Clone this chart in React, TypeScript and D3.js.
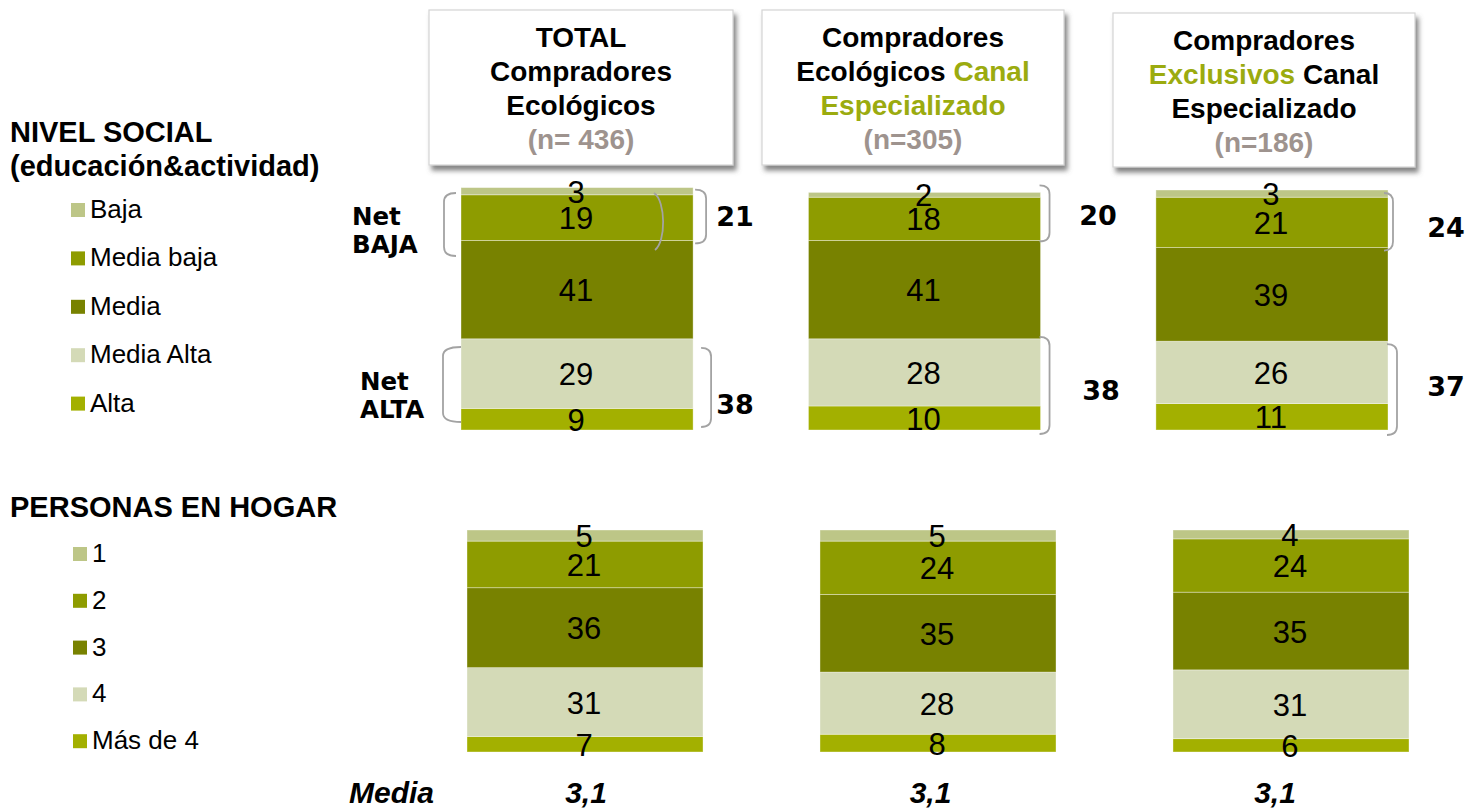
import React from "react";
import * as d3 from "d3";

// ---------- DATA ----------
const groups = ["total", "canal", "exclusivos"];

const nivelCategories = ["Baja", "Media baja", "Media", "Media Alta", "Alta"];
const nivelBaja = [3, 2, 3];
const nivelMediaBaja = [19, 18, 21];
const nivelMedia = [41, 41, 39];
const nivelMediaAlta = [29, 28, 26];
const nivelAlta = [9, 10, 11];
const netBaja = [21, 20, 24];
const netAlta = [38, 38, 37];

const personasCategories = ["1", "2", "3", "4", "Más de 4"];
const personas1 = [5, 5, 4];
const personas2 = [21, 24, 24];
const personas3 = [36, 35, 35];
const personas4 = [31, 28, 31];
const personas5 = [7, 8, 6];
const mediaValues = ["3,1", "3,1", "3,1"];

const headerLines = [
  [[["TOTAL", "k"]], [["Compradores", "k"]], [["Ecológicos", "k"]], [["(n= 436)", "g"]]],
  [[["Compradores", "k"]], [["Ecológicos ", "k"], ["Canal", "v"]], [["Especializado", "v"]], [["(n=305)", "g"]]],
  [[["Compradores", "k"]], [["Exclusivos", "v"], [" Canal", "k"]], [["Especializado", "k"]], [["(n=186)", "g"]]],
];

// ---------- STYLE / LAYOUT ----------
const W = 1467;
const H = 808;
const colors = ["#bdc687", "#8e9c00", "#788200", "#d4dab7", "#a3b000"];
const textColors: Record<string, string> = { k: "#000000", v: "#9bab0f", g: "#9e938e" };
const SANS = "'Liberation Sans', Arial, sans-serif";
const VERD = "'DejaVu Sans', Verdana, sans-serif";
const bracketColor = "#a3a3a3";

const headerBoxes = [
  { x: 429, y: 10, w: 304, h: 155 },
  { x: 762, y: 10, w: 302, h: 155 },
  { x: 1113, y: 13, w: 302, h: 154 },
];

// bracket annotations: offsets relative to bar right edge & segment extents
const bajaAnn = [
  { bx: 2, bw: 11, dy0: 2, dy1: 3, tx: 735, ty: 226 },
  { bx: -1, bw: 10, dy0: -7, dy1: 1, tx: 1098, ty: 225 },
  { bx: -4, bw: 9, dy0: 3, dy1: 3, tx: 1446, ty: 237 },
];
const altaAnn = [
  { bx: 8, bw: 10, dy0: 9, dy1: -3, tx: 735, ty: 414 },
  { bx: -1, bw: 10, dy0: -2, dy1: 4, tx: 1101, ty: 400 },
  { bx: -1, bw: 10, dy0: 3, dy1: 5, tx: 1446, ty: 396 },
];

function rightBracket(x0: number, x1: number, y0: number, y1: number, r = 9) {
  return `M${x0},${y0} Q${x1},${y0} ${x1},${y0 + r} L${x1},${y1 - r} Q${x1},${y1} ${x0},${y1}`;
}
function leftBracket(x0: number, x1: number, y0: number, y1: number, r = 9) {
  return `M${x1},${y0} Q${x0},${y0} ${x0},${y0 + r} L${x0},${y1 - r} Q${x0},${y1} ${x1},${y1}`;
}

type Row = Record<string, number | string>;

function buildRows(cats: string[], series: number[][]): Row[] {
  return groups.map((g, i) => {
    const r: Row = { group: g };
    cats.forEach((c, k) => (r[c] = series[k][i]));
    return r;
  });
}

function StackedBars({
  cats,
  series,
  x,
  y,
}: {
  cats: string[];
  series: number[][];
  x: d3.ScaleBand<string>;
  y: d3.ScaleLinear<number, number>;
}) {
  const rows = buildRows(cats, series);
  const keys = [...cats].reverse(); // bottom category first
  const stack = d3.stack<Row>().keys(keys).value((d, k) => d[k] as number);
  const layers = stack(rows);
  return (
    <g>
      {layers.map((layer) => {
        const ci = cats.indexOf(layer.key);
        return (
          <g key={layer.key}>
            {layer.map((d, i) => {
              const g = groups[i];
              const yTop = y(d[1]);
              const yBot = y(d[0]);
              return (
                <rect
                  key={g}
                  x={x(g)}
                  y={yTop}
                  width={x.bandwidth()}
                  height={yBot - yTop}
                  fill={colors[ci]}
                  stroke="rgba(255,255,255,0.45)"
                  strokeWidth={0.8}
                />
              );
            })}
          </g>
        );
      })}
      {layers.map((layer) => (
        <g key={"l" + layer.key}>
          {layer.map((d, i) => {
            const g = groups[i];
            const cy = (y(d[0]) + y(d[1])) / 2 + 1;
            return (
              <text
                key={g}
                x={(x(g) as number) + x.bandwidth() / 2 - 1}
                y={cy}
                dominantBaseline="central"
                textAnchor="middle"
                fontFamily={SANS}
                fontSize={31}
                fill="#000"
              >
                {d[1] - d[0]}
              </text>
            );
          })}
        </g>
      ))}
    </g>
  );
}

function Legend({ cats, x, y0, step, sq }: { cats: string[]; x: number; y0: number; step: number; sq: number }) {
  return (
    <g>
      {cats.map((c, i) => (
        <g key={c} transform={`translate(${x},${y0 + i * step})`}>
          <rect x={0} y={0} width={sq} height={sq} fill={colors[i]} />
          <text x={sq + 5} y={sq + 1} fontFamily={SANS} fontSize={26} fill="#000">
            {c}
          </text>
        </g>
      ))}
    </g>
  );
}

export default function App() {
  const xTop = d3.scaleBand<string>().domain(groups).range([461, 1388]).paddingInner(0.332);
  const yTop = d3.scaleLinear().domain([0, 100]).range([430, 190]);
  const xBot = d3.scaleBand<string>().domain(groups).range([467, 1409]).paddingInner(0.3314);
  const yBot = d3.scaleLinear().domain([0, 100]).range([752, 530]);
  const xMean = d3.scalePoint<string>().domain(groups).range([586, 1275]);

  const nivelSeries = [nivelBaja, nivelMediaBaja, nivelMedia, nivelMediaAlta, nivelAlta];
  const personasSeries = [personas1, personas2, personas3, personas4, personas5];

  return (
    <svg width={W} height={H} style={{ position: "absolute", left: 0, top: 0, background: "#fff" }}>
      <defs>
        <filter id="shadow" x="-10%" y="-10%" width="125%" height="135%">
          <feDropShadow dx={3} dy={5} stdDeviation={2.5} floodColor="#666666" floodOpacity={0.8} />
        </filter>
      </defs>
      <rect x={0} y={0} width={W} height={H} fill="#fff" />

      {/* Header boxes */}
      {headerBoxes.map((b, i) => (
        <g key={i}>
          <rect x={b.x} y={b.y} width={b.w} height={b.h} fill="#fff" stroke="#d4d4d4" strokeWidth={1.2} filter="url(#shadow)" />
          {headerLines[i].map((line, li) => (
            <text
              key={li}
              x={b.x + b.w / 2}
              y={b.y + 37 + li * 34}
              textAnchor="middle"
              fontFamily={SANS}
              fontWeight="bold"
              fontSize={28}
            >
              {line.map((run, ri) => (
                <tspan key={ri} fill={textColors[run[1]]} style={{ whiteSpace: "pre" }}>
                  {run[0]}
                </tspan>
              ))}
            </text>
          ))}
        </g>
      ))}

      {/* Section titles */}
      <text x={10} y={142} fontFamily={SANS} fontWeight="bold" fontSize={29}>NIVEL SOCIAL</text>
      <text x={10} y={176} fontFamily={SANS} fontWeight="bold" fontSize={29}>(educación&amp;actividad)</text>
      <text x={10} y={517} fontFamily={SANS} fontWeight="bold" fontSize={29}>PERSONAS EN HOGAR</text>

      <Legend cats={nivelCategories} x={71} y0={203} step={48.4} sq={14} />
      <Legend cats={personasCategories} x={73} y0={547} step={46.8} sq={14} />

      {/* Net labels */}
      <text fontFamily={VERD} fontWeight="bold" fontSize={24.5}>
        <tspan x={352} y={225}>Net</tspan>
        <tspan x={352} y={253}>BAJA</tspan>
      </text>
      <text fontFamily={VERD} fontWeight="bold" fontSize={24.5}>
        <tspan x={360} y={390}>Net</tspan>
        <tspan x={360} y={418}>ALTA</tspan>
      </text>

      {/* Bars */}
      <StackedBars cats={nivelCategories} series={nivelSeries} x={xTop} y={yTop} />
      <StackedBars cats={personasCategories} series={personasSeries} x={xBot} y={yBot} />

      {/* Decorative brackets on first column */}
      <g fill="none" stroke={bracketColor} strokeWidth={1.8}>
        <path d={leftBracket(444, 456, 193, 256)} />
        <path d={leftBracket(443, 461, 347, 422)} />
        <path d="M654,193 C666,201 666,242 655,250" />
      </g>

      {/* Net brackets & values */}
      {groups.map((g, i) => {
        const right = (xTop(g) as number) + xTop.bandwidth();
        const bTop = yTop(nivelBaja[i] + nivelMediaBaja[i] + nivelMedia[i] + nivelMediaAlta[i] + nivelAlta[i]);
        const bBot = yTop(nivelMedia[i] + nivelMediaAlta[i] + nivelAlta[i]);
        const aTop = yTop(nivelMediaAlta[i] + nivelAlta[i]);
        const aBot = yTop(0);
        const b = bajaAnn[i];
        const a = altaAnn[i];
        return (
          <g key={g}>
            <path
              d={rightBracket(right + b.bx, right + b.bx + b.bw, bTop + b.dy0, bBot + b.dy1)}
              fill="none"
              stroke={bracketColor}
              strokeWidth={1.8}
            />
            <path
              d={rightBracket(right + a.bx, right + a.bx + a.bw, aTop + a.dy0, aBot + a.dy1)}
              fill="none"
              stroke={bracketColor}
              strokeWidth={1.8}
            />
            <text x={b.tx} y={b.ty} textAnchor="middle" fontFamily={VERD} fontWeight="bold" fontSize={27}>
              {netBaja[i]}
            </text>
            <text x={a.tx} y={a.ty} textAnchor="middle" fontFamily={VERD} fontWeight="bold" fontSize={27}>
              {netAlta[i]}
            </text>
          </g>
        );
      })}

      {/* Media */}
      <text x={349} y={803} fontFamily={SANS} fontWeight="bold" fontStyle="italic" fontSize={30}>Media</text>
      {groups.map((g, i) => (
        <text
          key={g}
          x={xMean(g)}
          y={803}
          textAnchor="middle"
          fontFamily={SANS}
          fontWeight="bold"
          fontStyle="italic"
          fontSize={30}
        >
          {mediaValues[i]}
        </text>
      ))}
    </svg>
  );
}
